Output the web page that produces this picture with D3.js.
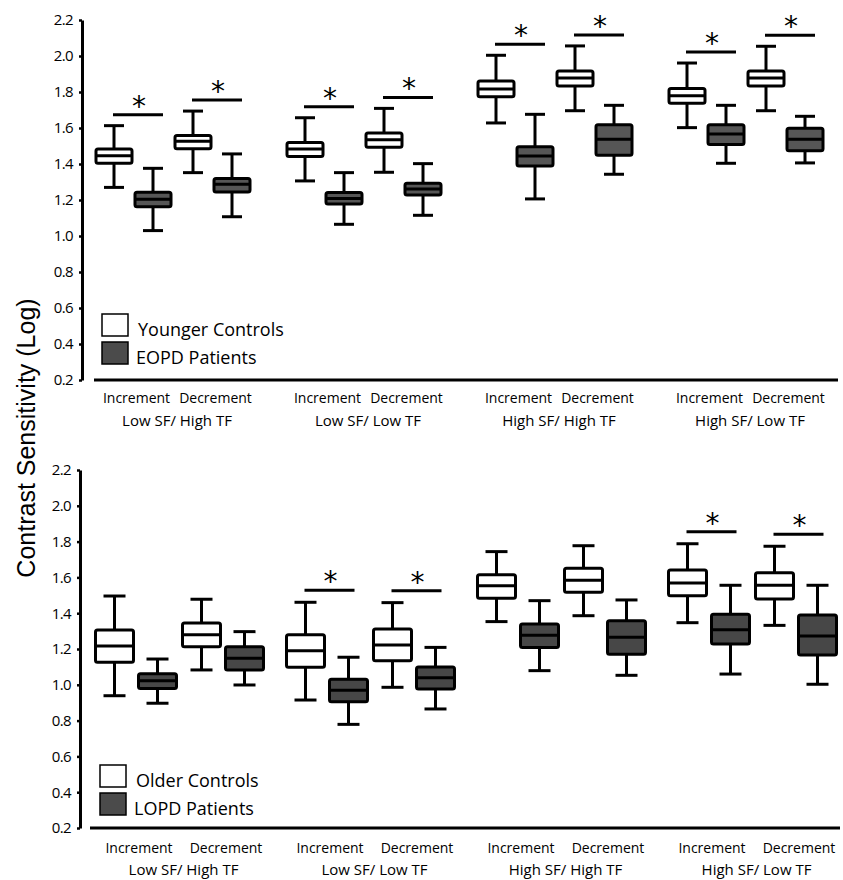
<!DOCTYPE html>
<html>
<head>
<meta charset="utf-8">
<script src="https://cdn.jsdelivr.net/npm/d3@7"></script>
<style>
  body { margin: 0; background: #fff; }
  text { font-family: "Open Sans", sans-serif; fill: #000; }
</style>
</head>
<body>
<div id="chart"></div>
<script>
// categories
const groups = ["Low SF/ High TF", "Low SF/ Low TF", "High SF/ High TF", "High SF/ Low TF"];
const conditions = ["Increment", "Decrement"];
const yTicks = [0.2, 0.4, 0.6, 0.8, 1.0, 1.2, 1.4, 1.6, 1.8, 2.0, 2.2];

// boxes: [lower whisker, q1, median, q3, upper whisker], order group -> condition
const youngerControls = [
  [1.27, 1.404, 1.446, 1.483, 1.613], [1.352, 1.485, 1.526, 1.559, 1.694],
  [1.306, 1.441, 1.483, 1.52, 1.657], [1.354, 1.493, 1.535, 1.572, 1.709],
  [1.628, 1.774, 1.817, 1.861, 2.004], [1.696, 1.833, 1.878, 1.917, 2.056],
  [1.602, 1.737, 1.779, 1.82, 1.961], [1.696, 1.833, 1.878, 1.917, 2.054]
];
const eopdPatients = [
  [1.03, 1.163, 1.204, 1.243, 1.376], [1.107, 1.244, 1.287, 1.32, 1.456],
  [1.065, 1.178, 1.209, 1.241, 1.352], [1.115, 1.228, 1.261, 1.293, 1.402],
  [1.206, 1.389, 1.444, 1.496, 1.676], [1.343, 1.448, 1.537, 1.618, 1.726],
  [1.404, 1.509, 1.567, 1.618, 1.726], [1.406, 1.474, 1.537, 1.598, 1.665]
];
const olderControls = [
  [0.939, 1.126, 1.217, 1.306, 1.496], [1.083, 1.213, 1.28, 1.345, 1.478],
  [0.915, 1.098, 1.19, 1.28, 1.461], [0.986, 1.135, 1.222, 1.312, 1.459],
  [1.353, 1.483, 1.554, 1.615, 1.744], [1.386, 1.517, 1.584, 1.651, 1.777],
  [1.347, 1.498, 1.569, 1.641, 1.788], [1.332, 1.479, 1.556, 1.626, 1.774]
];
const lopdPatients = [
  [0.897, 0.98, 1.023, 1.062, 1.144], [0.999, 1.083, 1.148, 1.213, 1.297],
  [0.779, 0.906, 0.969, 1.031, 1.154], [0.865, 0.977, 1.04, 1.1, 1.209],
  [1.079, 1.209, 1.277, 1.34, 1.47], [1.053, 1.17, 1.265, 1.358, 1.474],
  [1.06, 1.228, 1.308, 1.394, 1.556], [1.003, 1.166, 1.273, 1.39, 1.556]
];
// significant differences (*) per comparison
const topSignificant = [true, true, true, true, true, true, true, true];
const bottomSignificant = [false, false, true, true, false, false, true, true];

const W = 843, H = 880;
const svg = d3.select("#chart").append("svg").attr("width", W).attr("height", H);

// y label over both panels
svg.append("text")
  .attr("transform", "translate(35,438) rotate(-90)")
  .attr("text-anchor", "middle")
  .style("font-family", "'Liberation Sans', Arial, sans-serif")
  .style("font-size", "25px")
  .text("Contrast Sensitivity (Log)");

drawPanel({
  controls: youngerControls, patients: eopdPatients, sig: topSignificant,
  names: ["Younger Controls", "EOPD Patients"],
  yRange: [380, 20], xRange: [77.5, 841.5], axisX: 82, xLine: [94, 838],
  pairOff: 39.5, serOff: 19.5, boxW: 36, capW: 20, dark: "#565656", sigGap: 11,
  legend: { x: 102, y: 314 }, condY: 403, groupY: 426
});
drawPanel({
  controls: olderControls, patients: lopdPatients, sig: bottomSignificant,
  names: ["Older Controls", "LOPD Patients"],
  yRange: [828, 470], xRange: [84, 848], axisX: 80, xLine: [90, 840],
  pairOff: 43.5, serOff: 21.5, boxW: 38, capW: 22, dark: "#474747", sigGap: 12,
  legend: { x: 100, y: 765 }, condY: 853, groupY: 875
});

function drawPanel(p) {
  const y = d3.scaleLinear().domain([0.2, 2.2]).range(p.yRange);
  const xg = d3.scaleBand().domain(groups).range(p.xRange);
  const xc = d3.scalePoint().domain(conditions).range([-p.pairOff, p.pairOff]);
  const xs = d3.scalePoint().domain(["control", "patient"]).range([-p.serOff, p.serOff]);
  const g = svg.append("g");

  // y axis
  const ax = g.append("g")
    .attr("transform", "translate(" + p.axisX + ",0)")
    .call(d3.axisLeft(y).tickValues(yTicks).tickFormat(d3.format(".1f"))
      .tickSize(3).tickSizeOuter(0).tickPadding(6));
  ax.select(".domain").attr("stroke-width", 3);
  ax.selectAll(".tick line").attr("stroke-width", 2.5);
  ax.selectAll(".tick text").style("font-family", "'Open Sans', sans-serif")
    .style("font-size", "15px").style("letter-spacing", "-0.6px").attr("fill", "#000");

  // x axis line
  g.append("line")
    .attr("x1", p.xLine[0]).attr("x2", p.xLine[1])
    .attr("y1", y(0.2)).attr("y2", y(0.2))
    .attr("stroke", "#000").attr("stroke-width", 3);

  // flatten the boxes
  const boxes = [];
  groups.forEach(function (gr, gi) {
    conditions.forEach(function (c, ci) {
      const k = gi * 2 + ci;
      boxes.push({ group: gr, cond: c, series: "control", v: p.controls[k], k: k });
      boxes.push({ group: gr, cond: c, series: "patient", v: p.patients[k], k: k });
    });
  });
  const cx = function (d) {
    return xg(d.group) + xg.bandwidth() / 2 + xc(d.cond) + xs(d.series);
  };

  const b = g.selectAll(".box").data(boxes).enter().append("g").attr("class", "box");
  b.append("line")
    .attr("x1", cx).attr("x2", cx)
    .attr("y1", d => y(d.v[0])).attr("y2", d => y(d.v[4]))
    .attr("stroke", "#000").attr("stroke-width", 3);
  [0, 4].forEach(function (i) {
    b.append("line")
      .attr("x1", d => cx(d) - p.capW / 2).attr("x2", d => cx(d) + p.capW / 2)
      .attr("y1", d => y(d.v[i])).attr("y2", d => y(d.v[i]))
      .attr("stroke", "#000").attr("stroke-width", 3);
  });
  b.append("rect")
    .attr("x", d => cx(d) - p.boxW / 2).attr("width", p.boxW)
    .attr("y", d => y(d.v[3])).attr("height", d => y(d.v[1]) - y(d.v[3]))
    .attr("rx", 2)
    .attr("fill", d => d.series == "control" ? "#fff" : p.dark)
    .attr("stroke", "#000").attr("stroke-width", 3);
  b.append("line")
    .attr("x1", d => cx(d) - p.boxW / 2).attr("x2", d => cx(d) + p.boxW / 2)
    .attr("y1", d => y(d.v[2])).attr("y2", d => y(d.v[2]))
    .attr("stroke", "#000").attr("stroke-width", 3);

  // significance bars
  const sig = boxes.filter(d => d.series == "control" && p.sig[d.k]);
  sig.forEach(function (d) {
    const ly = y(d.v[4]) - p.sigGap;
    const x0 = cx(d) - 1;
    g.append("line").attr("x1", x0).attr("x2", x0 + 50)
      .attr("y1", ly).attr("y2", ly)
      .attr("stroke", "#000").attr("stroke-width", 3);
    g.append("text").attr("x", x0 + 26).attr("y", ly + 1)
      .attr("text-anchor", "middle")
      .style("font-family", "'DejaVu Sans', sans-serif").style("font-size", "28px")
      .text("*");
  });

  // category labels
  groups.forEach(function (gr) {
    const gc = xg(gr) + xg.bandwidth() / 2;
    conditions.forEach(function (c) {
      g.append("text").attr("x", gc + xc(c) + 3).attr("y", p.condY)
        .attr("text-anchor", "middle").style("font-size", "14px").text(c);
    });
    g.append("text").attr("x", gc + 4).attr("y", p.groupY)
      .attr("text-anchor", "middle").style("font-size", "15px").text(gr);
  });

  // legend
  const fills = ["#fff", "#4b4b4b"];
  p.names.forEach(function (n, i) {
    g.append("rect").attr("x", p.legend.x).attr("y", p.legend.y + i * 28)
      .attr("width", 26).attr("height", 22)
      .attr("fill", fills[i]).attr("stroke", "#000").attr("stroke-width", 1.5);
    g.append("text").attr("x", p.legend.x + 36 - i * 2).attr("y", p.legend.y + 22 + i * 28)
      .style("font-size", "18px").text(n);
  });
}
</script>
</body>
</html>
